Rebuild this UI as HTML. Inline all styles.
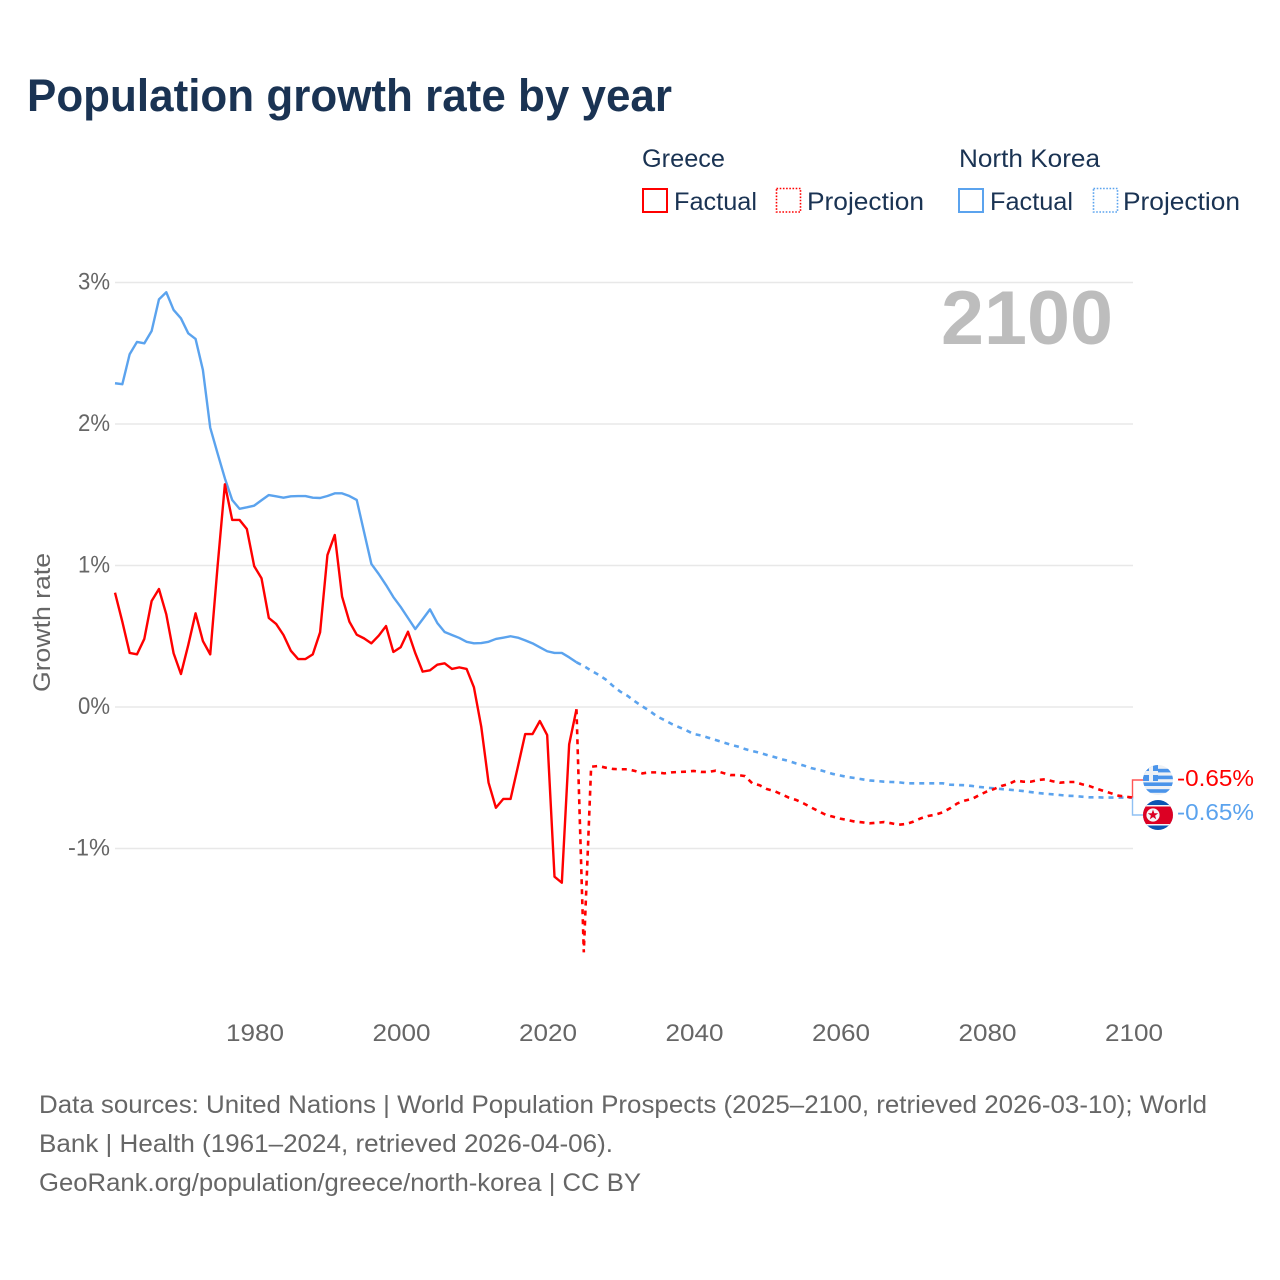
<!DOCTYPE html>
<html lang="en">
<head>
<meta charset="utf-8">
<title>Population growth rate by year</title>
<style>
html,body{margin:0;padding:0;background:#fff;}
svg{display:block;}
text{font-family:"Liberation Sans",sans-serif;}
</style>
</head>
<body>
<svg id="chart" width="1280" height="1280" viewBox="0 0 1280 1280" xmlns="http://www.w3.org/2000/svg">
  <defs>
    <clipPath id="flag-clip-gr"><circle cx="1158" cy="780" r="15"/></clipPath>
    <clipPath id="flag-clip-kp"><circle cx="1158" cy="815" r="15"/></clipPath>
  </defs>
  <rect x="0" y="0" width="1280" height="1280" fill="#fff"/>
  <text x="27" y="111" font-size="45" font-weight="700" fill="#1a3353" textLength="645" lengthAdjust="spacingAndGlyphs">Population growth rate by year</text>

  <g font-size="25" fill="#1a3353">
    <text x="642" y="167" textLength="83" lengthAdjust="spacingAndGlyphs">Greece</text>
    <rect x="643" y="189" width="24" height="23" fill="none" stroke="#ff0000" stroke-width="2"/>
    <text x="674" y="210" textLength="83" lengthAdjust="spacingAndGlyphs">Factual</text>
    <rect x="776.5" y="188.5" width="24" height="23.5" fill="none" stroke="#ff0000" stroke-width="1.6" stroke-dasharray="1.6,1.6"/>
    <text x="807" y="210" textLength="117" lengthAdjust="spacingAndGlyphs">Projection</text>
    <text x="959" y="167" textLength="141" lengthAdjust="spacingAndGlyphs">North Korea</text>
    <rect x="959" y="189" width="24" height="23" fill="none" stroke="#5ba3ee" stroke-width="2"/>
    <text x="990" y="210" textLength="83" lengthAdjust="spacingAndGlyphs">Factual</text>
    <rect x="1093.5" y="188.5" width="24" height="23.5" fill="none" stroke="#5ba3ee" stroke-width="1.6" stroke-dasharray="1.6,1.6"/>
    <text x="1123" y="210" textLength="117" lengthAdjust="spacingAndGlyphs">Projection</text>
  </g>

  <g id="grid"></g>
  <g id="yticks"></g>
  <g id="xticks"></g>
  <text transform="translate(50,622.5) rotate(-90)" text-anchor="middle" font-size="24" fill="#666" textLength="139" lengthAdjust="spacingAndGlyphs">Growth rate</text>
  <text x="941" y="344" font-size="76" font-weight="700" fill="#bdbdbd" textLength="172" lengthAdjust="spacingAndGlyphs">2100</text>

  <g id="series"></g>
  <g id="connectors"></g>

  <g clip-path="url(#flag-clip-gr)">
    <rect x="1143" y="765" width="30" height="30" fill="#eef1f5"/>
    <rect x="1143" y="768.8" width="30" height="3.6" fill="#4a94ea"/>
    <rect x="1143" y="775.6" width="30" height="3.6" fill="#4a94ea"/>
    <rect x="1143" y="782.4" width="30" height="3.6" fill="#4a94ea"/>
    <rect x="1143" y="789.2" width="30" height="3.6" fill="#4a94ea"/>
    <rect x="1143" y="765" width="15" height="16" fill="#4a94ea"/>
    <rect x="1149" y="765" width="4" height="16" fill="#eef1f5"/>
    <rect x="1143" y="771" width="15" height="4" fill="#eef1f5"/>
  </g>
  <g clip-path="url(#flag-clip-kp)">
    <rect x="1143" y="800" width="30" height="30" fill="#0b55b3"/>
    <rect x="1143" y="805" width="30" height="20.5" fill="#f4f6f8"/>
    <rect x="1143" y="806.5" width="30" height="17.5" fill="#dc0023"/>
    <circle cx="1153" cy="815" r="6.6" fill="#f4f6f8"/>
    <polygon points="1153,809.5 1154.3,813.2 1158.2,813.3 1155.1,815.6 1156.2,819.3 1153,817.1 1149.8,819.3 1150.9,815.6 1147.8,813.3 1151.7,813.2" fill="#dc0023"/>
  </g>
  <text x="1177" y="786" font-size="23.5" fill="#ff0000" textLength="77" lengthAdjust="spacingAndGlyphs">-0.65%</text>
  <text x="1177" y="820" font-size="23.5" fill="#5ba3ee" textLength="77" lengthAdjust="spacingAndGlyphs">-0.65%</text>

  <g font-size="25" fill="#666">
    <text x="39" y="1113" textLength="1168" lengthAdjust="spacingAndGlyphs">Data sources: United Nations | World Population Prospects (2025–2100, retrieved 2026-03-10); World</text>
    <text x="39" y="1152" textLength="574" lengthAdjust="spacingAndGlyphs">Bank | Health (1961–2024, retrieved 2026-04-06).</text>
    <text x="39" y="1191" textLength="602" lengthAdjust="spacingAndGlyphs">GeoRank.org/population/greece/north-korea | CC BY</text>
  </g>
</svg>
<script>
const factualStartYear = 1961;
const projectionStartYear = 2024;
const yTickValues = [3, 2, 1, 0, -1];
const yTickLabels = ["3%", "2%", "1%", "0%", "-1%"];
const xTickYears = [1980, 2000, 2020, 2040, 2060, 2080, 2100];
const xTickLabels = ["1980", "2000", "2020", "2040", "2060", "2080", "2100"];

const greeceFactual = [
  0.808, 0.603, 0.382, 0.372, 0.481, 0.749, 0.834, 0.655, 0.380, 0.233,
  0.438, 0.662, 0.466, 0.372, 0.992, 1.574, 1.322, 1.322, 1.258, 0.996,
  0.910, 0.629, 0.587, 0.509, 0.398, 0.339, 0.339, 0.372, 0.528, 1.074,
  1.216, 0.780, 0.603, 0.511, 0.485, 0.450, 0.504, 0.572, 0.389, 0.422,
  0.532, 0.380, 0.250, 0.259, 0.299, 0.309, 0.269, 0.280, 0.269, 0.139,
  -0.139, -0.535, -0.712, -0.650, -0.650, -0.422, -0.191, -0.191, -0.099, -0.198,
  -1.199, -1.242, -0.264, -0.016
];
const greeceProjection = [
  -0.016, -1.734, -0.422, -0.417, -0.429, -0.438, -0.440, -0.440, -0.452, -0.469,
  -0.462, -0.462, -0.469, -0.462, -0.459, -0.457, -0.452, -0.459, -0.459, -0.450,
  -0.466, -0.481, -0.481, -0.488, -0.539, -0.553, -0.580, -0.594, -0.617, -0.641,
  -0.657, -0.681, -0.709, -0.735, -0.761, -0.775, -0.789, -0.799, -0.810, -0.815,
  -0.822, -0.818, -0.813, -0.822, -0.832, -0.827, -0.810, -0.787, -0.770, -0.761,
  -0.744, -0.716, -0.681, -0.662, -0.650, -0.622, -0.598, -0.580, -0.558, -0.544,
  -0.520, -0.528, -0.528, -0.516, -0.511, -0.525, -0.535, -0.530, -0.530, -0.546,
  -0.558, -0.577, -0.594, -0.610, -0.627, -0.634, -0.640
];
const koreaFactual = [
  2.288, 2.281, 2.493, 2.580, 2.570, 2.657, 2.881, 2.931, 2.806, 2.747,
  2.641, 2.601, 2.382, 1.974, 1.793, 1.616, 1.463, 1.401, 1.411, 1.423,
  1.461, 1.498, 1.489, 1.479, 1.489, 1.491, 1.491, 1.479, 1.477, 1.491,
  1.510, 1.510, 1.491, 1.463, 1.237, 1.011, 0.940, 0.862, 0.777, 0.707,
  0.629, 0.551, 0.620, 0.690, 0.594, 0.530, 0.509, 0.488, 0.461, 0.450,
  0.452, 0.461, 0.481, 0.490, 0.500, 0.490, 0.471, 0.450, 0.422, 0.394,
  0.382, 0.382, 0.351, 0.316
];
const koreaProjection = [
  0.316, 0.290, 0.257, 0.228, 0.194, 0.148, 0.108, 0.078, 0.039, 0.004,
  -0.028, -0.067, -0.092, -0.120, -0.143, -0.165, -0.191, -0.201, -0.217, -0.233,
  -0.249, -0.266, -0.279, -0.297, -0.311, -0.323, -0.339, -0.353, -0.369, -0.382,
  -0.399, -0.413, -0.431, -0.443, -0.457, -0.473, -0.484, -0.495, -0.502, -0.511,
  -0.519, -0.523, -0.528, -0.530, -0.532, -0.539, -0.539, -0.539, -0.539, -0.539,
  -0.539, -0.549, -0.551, -0.553, -0.558, -0.565, -0.570, -0.575, -0.580, -0.584,
  -0.589, -0.594, -0.601, -0.608, -0.613, -0.617, -0.622, -0.627, -0.629, -0.634,
  -0.638, -0.638, -0.640, -0.640, -0.640, -0.640, -0.640
];

const NS = "http://www.w3.org/2000/svg";
function xScale(year) { return 115 + (year - 1961) * 7.325; }
function yScale(value) { return 707 - value * 141.5; }
function pathFrom(values, startYear) {
  return values.map(function (v, i) {
    return (i ? "L" : "M") + xScale(startYear + i).toFixed(2) + " " + yScale(v).toFixed(2);
  }).join(" ");
}

const gridGroup = document.getElementById("grid");
const yTickGroup = document.getElementById("yticks");
yTickValues.forEach(function (v, i) {
  const line = document.createElementNS(NS, "line");
  
  
  line.setAttribute("x1", 115);
  line.setAttribute("x2", 1133);
  line.setAttribute("y1", yScale(v));
  line.setAttribute("y2", yScale(v));
  line.setAttribute("stroke", "#e8e8e8");
  line.setAttribute("stroke-width", "1.5");
  gridGroup.appendChild(line);
  const label = document.createElementNS(NS, "text");
  
  
  label.setAttribute("x", 110);
  label.setAttribute("y", yScale(v) + 7);
  label.setAttribute("text-anchor", "end");
  label.setAttribute("font-size", "24");
  label.setAttribute("fill", "#666");
  label.setAttribute("textLength", yTickLabels[i].length > 2 ? "42" : "32");
  label.setAttribute("lengthAdjust", "spacingAndGlyphs");
  label.textContent = yTickLabels[i];
  yTickGroup.appendChild(label);
});

const xTickGroup = document.getElementById("xticks");
xTickYears.forEach(function (year, i) {
  const label = document.createElementNS(NS, "text");
  
  
  label.setAttribute("x", xScale(year) + 0.8);
  label.setAttribute("y", 1041);
  label.setAttribute("text-anchor", "middle");
  label.setAttribute("font-size", "24");
  label.setAttribute("fill", "#666");
  label.setAttribute("textLength", "58");
  label.setAttribute("lengthAdjust", "spacingAndGlyphs");
  label.textContent = xTickLabels[i];
  xTickGroup.appendChild(label);
});

const seriesGroup = document.getElementById("series");

const koreaFactualLine = document.createElementNS(NS, "path");


koreaFactualLine.setAttribute("d", pathFrom(koreaFactual, factualStartYear));
koreaFactualLine.setAttribute("fill", "none");
koreaFactualLine.setAttribute("stroke", "#5ba3ee");
koreaFactualLine.setAttribute("stroke-width", "2.4");
koreaFactualLine.setAttribute("stroke-linejoin", "round");
seriesGroup.appendChild(koreaFactualLine);

const greeceFactualLine = document.createElementNS(NS, "path");


greeceFactualLine.setAttribute("d", pathFrom(greeceFactual, factualStartYear));
greeceFactualLine.setAttribute("fill", "none");
greeceFactualLine.setAttribute("stroke", "#ff0000");
greeceFactualLine.setAttribute("stroke-width", "2.4");
greeceFactualLine.setAttribute("stroke-linejoin", "round");
seriesGroup.appendChild(greeceFactualLine);

const koreaProjectionLine = document.createElementNS(NS, "path");


koreaProjectionLine.setAttribute("d", pathFrom(koreaProjection, projectionStartYear));
koreaProjectionLine.setAttribute("fill", "none");
koreaProjectionLine.setAttribute("stroke", "#5ba3ee");
koreaProjectionLine.setAttribute("stroke-width", "2.6");
koreaProjectionLine.setAttribute("stroke-dasharray", "5,5");
seriesGroup.appendChild(koreaProjectionLine);

const greeceProjectionLine = document.createElementNS(NS, "path");


greeceProjectionLine.setAttribute("d", pathFrom(greeceProjection, projectionStartYear));
greeceProjectionLine.setAttribute("fill", "none");
greeceProjectionLine.setAttribute("stroke", "#ff0000");
greeceProjectionLine.setAttribute("stroke-width", "2.6");
greeceProjectionLine.setAttribute("stroke-dasharray", "5,5");
seriesGroup.appendChild(greeceProjectionLine);

const connectorGroup = document.getElementById("connectors");
const greeceEndY = yScale(greeceProjection[greeceProjection.length - 1]);
const koreaEndY = yScale(koreaProjection[koreaProjection.length - 1]);

const greeceConnector = document.createElementNS(NS, "path");


greeceConnector.setAttribute("d", "M1132.5 " + greeceEndY.toFixed(1) + " V780 H1143");
greeceConnector.setAttribute("fill", "none");
greeceConnector.setAttribute("stroke", "#ff5555");
greeceConnector.setAttribute("stroke-width", "1.4");
connectorGroup.appendChild(greeceConnector);

const koreaConnector = document.createElementNS(NS, "path");


koreaConnector.setAttribute("d", "M1132.5 " + koreaEndY.toFixed(1) + " V815 H1143");
koreaConnector.setAttribute("fill", "none");
koreaConnector.setAttribute("stroke", "#8fc0f3");
koreaConnector.setAttribute("stroke-width", "1.4");
connectorGroup.appendChild(koreaConnector);
</script>
</body>
</html>
